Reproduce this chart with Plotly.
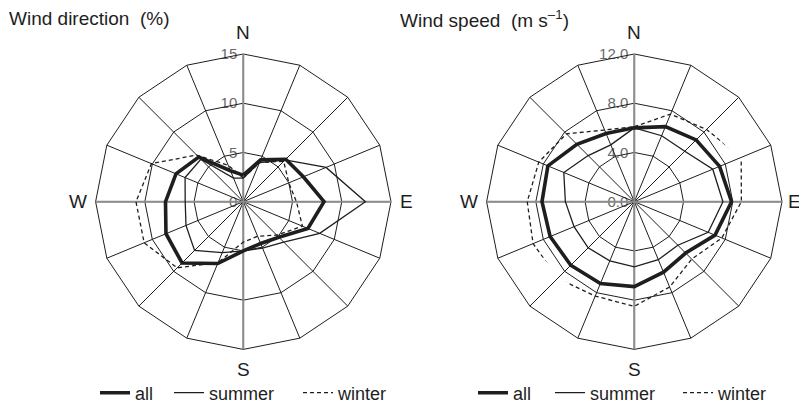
import plotly.graph_objects as go

# ---------------- data ----------------
directions = ["N", "NNE", "NE", "ENE", "E", "ESE", "SE", "SSE",
              "S", "SSW", "SW", "WSW", "W", "WNW", "NW", "NNW"]

# Wind direction frequency (%)
dir_all = [2.7, 4.6, 6.1, 6.6, 8.2, 7.1, 5.1, 4.6, 5.0, 6.8, 8.8, 8.5, 7.9, 7.4, 6.4, 3.4]
dir_summer = [2.4, 4.3, 6.0, 9.1, 12.4, 8.4, 5.8, 5.1, 5.0, 5.6, 7.0, 6.3, 5.9, 6.4, 6.1, 2.6]
dir_winter = [2.4, 4.3, 5.8, 5.0, 5.4, 6.5, 4.8, 3.8, 4.1, 6.7, 9.5, 10.9, 10.9, 10.1, 6.7, 4.0]

# Wind speed (m s-1)
spd_all = [6.0, 6.6, 7.1, 7.5, 7.9, 7.1, 5.9, 6.2, 6.9, 7.2, 7.3, 7.4, 7.5, 7.6, 6.6, 6.0]
spd_summer = [6.0, 5.8, 5.8, 6.9, 7.2, 6.5, 5.0, 5.1, 5.3, 5.2, 5.3, 5.3, 5.6, 6.2, 5.3, 5.0]
spd_winter = [6.1, 7.7, 8.3, 9.4, 8.7, 7.7, 6.6, 7.5, 8.5, 8.3, 8.8, 8.9, 8.7, 8.4, 7.8, 6.3]

dir_ticks = [0, 5, 10, 15]
spd_ticks = [0, 4, 8, 12]
compass = ["N", "E", "S", "W"]
series_names = ["all", "summer", "winter"]

# ---------------- layout geometry ----------------
# the page body has an 8px margin, so the figure is drawn 8px right/down
OX, OY = 8, 8
W, H = 807 - OX, 414 - 2 * OY
R = 147.7
centers = [(243.3, 201.7), (634.3, 201.7)]
FONT = "Liberation Sans, Arial, Helvetica, sans-serif"
INK = "#1e1e1e"


def px(x):
    return (x - OX) / W


def py(y):
    return 1 - (y - OY) / H


def dom(cx, cy):
    return dict(x=[px(cx - R), px(cx + R)], y=[py(cy + R), py(cy - R)])


styles = {
    "all": dict(width=3.6, dash="solid"),
    "summer": dict(width=1.3, dash="solid"),
    "winter": dict(width=1.3, dash="4px,3px"),
}

panels = [
    (dict(zip(series_names, [dir_all, dir_summer, dir_winter])), dir_ticks, ""),
    (dict(zip(series_names, [spd_all, spd_summer, spd_winter])), spd_ticks, ".1f"),
]
subplot_names = [("polar", "polar2"), ("polar3", "polar4")]
yaxis_names = [("y", "yaxis"), ("y2", "yaxis2")]
# one legend per entry so that each entry sits where the reference has it
legend_start = [[103, 177, 306], [481, 558, 686]]

fig = go.Figure()
leg_layout = {}
k = 0
for i, (series, ticks, fmt) in enumerate(panels):
    bname, tname = subplot_names[i]
    # placeholder so that the grid subplot gets drawn
    fig.add_trace(go.Scatterpolar(r=[0], theta=[directions[0]], mode="lines",
                                  subplot=bname, showlegend=False, hoverinfo="skip"))
    # placeholder for the cartesian axis that carries the radial tick labels
    fig.add_trace(go.Scatter(x=[None], y=[None], xaxis="x", yaxis=yaxis_names[i][0],
                             showlegend=False, hoverinfo="skip"))
    for j, name in enumerate(series_names):
        vals = series[name]
        k += 1
        lname = "legend" if k == 1 else f"legend{k}"
        fig.add_trace(go.Scatterpolar(
            r=vals + vals[:1], theta=directions + directions[:1],
            mode="lines", name=name, subplot=tname, legend=lname,
            line=dict(color=INK, width=styles[name]["width"], dash=styles[name]["dash"]),
            hoverinfo="skip",
        ))
        leg_layout[lname] = dict(orientation="h", x=px(legend_start[i][j] - 8), xanchor="left",
                                 y=py(393), yanchor="middle",
                                 font=dict(size=18, color=INK, family=FONT),
                                 bgcolor="rgba(0,0,0,0)", borderwidth=0)

layout = dict(
    width=W, height=H, margin=dict(l=0, r=0, t=0, b=0, autoexpand=False),
    paper_bgcolor="white", plot_bgcolor="rgba(0,0,0,0)",
    font=dict(family=FONT, color=INK, size=18),
    showlegend=True,
    xaxis=dict(domain=[0, 0.01], range=[0, 1], visible=False, fixedrange=True),
)
layout.update(leg_layout)

annotations = []
for i, (cx, cy) in enumerate(centers):
    ticks = panels[i][1]
    fmt = panels[i][2]
    d = dom(cx, cy)
    bname, tname = subplot_names[i]
    layout[bname] = dict(
        domain=d, gridshape="linear", bgcolor="rgba(0,0,0,0)",
        radialaxis=dict(range=[0, ticks[-1]], tickvals=ticks, angle=90,
                        showticklabels=False, showline=False, ticks="",
                        showgrid=True, gridcolor=INK, gridwidth=1),
        angularaxis=dict(type="category", categoryarray=directions,
                         direction="clockwise", rotation=90,
                         showticklabels=False, ticks="",
                         showline=True, linecolor=INK, linewidth=1,
                         gridcolor=INK, gridwidth=1),
    )
    layout[tname] = dict(
        domain=d, gridshape="linear", bgcolor="rgba(0,0,0,0)",
        radialaxis=dict(range=[0, ticks[-1]], visible=False),
        angularaxis=dict(type="category", categoryarray=directions,
                         direction="clockwise", rotation=90,
                         tickmode="array", tickvals=compass,
                         showticklabels=False, ticks="", showline=False,
                         gridcolor="#8c8c8c", gridwidth=1.6),
    )
    # radial tick labels: a free cartesian y axis along the north spoke
    layout[yaxis_names[i][1]] = dict(
        domain=[py(cy), py(cy - R)], range=[0, ticks[-1]],
        anchor="free", position=px(cx), side="left",
        tickmode="array", tickvals=ticks, tickformat=fmt,
        showline=False, showgrid=False, zeroline=False, ticks="",
        ticklabelstandoff=6, fixedrange=True, automargin=False,
        tickfont=dict(size=15, color="#6a6a6a", family=FONT),
    )
    e_gap = 7 if i == 0 else 4
    spec = {
        "N": dict(x=px(cx), y=py(cy - R - 22), xanchor="center", yanchor="middle"),
        "S": dict(x=px(cx), y=py(cy + R + 20), xanchor="center", yanchor="middle"),
        "E": dict(x=px(cx + R + e_gap), y=py(cy), xanchor="left", yanchor="middle"),
        "W": dict(x=px(cx - R - 7), y=py(cy), xanchor="right", yanchor="middle"),
    }
    for lab in compass:
        annotations.append(dict(text=lab, xref="paper", yref="paper", showarrow=False,
                                font=dict(size=19, color=INK, family=FONT), **spec[lab]))

annotations.append(dict(text="Wind direction  (%)", x=px(7), y=py(18),
                        xref="paper", yref="paper", xanchor="left", yanchor="middle",
                        showarrow=False, font=dict(size=19, color=INK, family=FONT)))
annotations.append(dict(text="Wind speed  (m s<sup>\u20131</sup>)", x=px(398), y=py(19),
                        xref="paper", yref="paper", xanchor="left", yanchor="middle",
                        showarrow=False, font=dict(size=19, color=INK, family=FONT)))
layout["annotations"] = annotations

fig.update_layout(**layout)
fig.write_html("out.html")
